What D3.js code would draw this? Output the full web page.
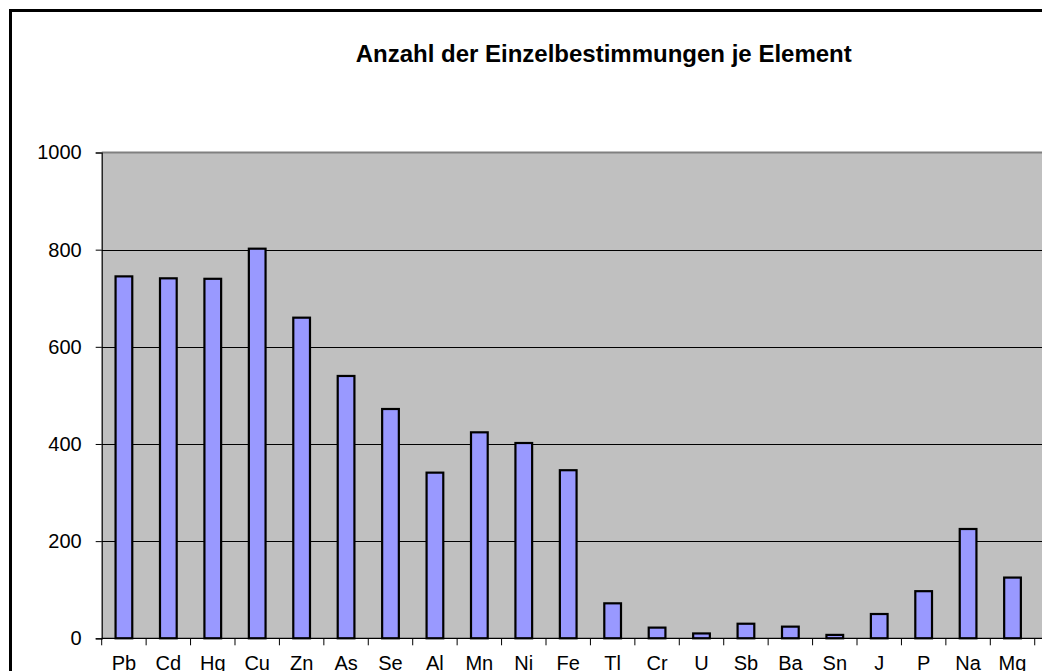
<!DOCTYPE html>
<html>
<head>
<meta charset="utf-8">
<script src="https://cdn.jsdelivr.net/npm/d3@7"></script>
<style>
  html, body { margin: 0; padding: 0; background: #fff; overflow: hidden; }
  svg { display: block; font-family: Arial, "Liberation Sans", sans-serif; }
</style>
</head>
<body>
<svg id="chart" width="1042" height="671"></svg>
<script>
const titleText = "Anzahl der Einzelbestimmungen je Element";
const categories = ["Pb","Cd","Hg","Cu","Zn","As","Se","Al","Mn","Ni","Fe","Tl","Cr","U","Sb","Ba","Sn","J","P","Na","Mg"];
const values = [745, 741, 740, 802, 660, 540, 472, 341, 424, 402, 346, 72, 22, 10, 30, 24, 7, 50, 97, 225, 125];
const yTicks = [0, 200, 400, 600, 800, 1000];

const svg = d3.select("#chart");
const W = 1042, H = 671;
const plot = { left: 101.7, top: 152.5, bottom: 638.3 };
const step = 44.43;

const x = d3.scaleBand()
  .domain(categories)
  .range([plot.left, plot.left + categories.length * step])
  .paddingInner(0.624)
  .paddingOuter(0.312);

const y = d3.scaleLinear().domain([0, 1000]).range([plot.bottom, plot.top]);

// outer chart frame
svg.append("rect")
  .attr("x", 10.5).attr("y", 10.5)
  .attr("width", W + 20).attr("height", H + 20)
  .attr("fill", "#fff").attr("stroke", "#000").attr("stroke-width", 3);

// title
svg.append("text")
  .attr("x", 603.7).attr("y", 62)
  .attr("text-anchor", "middle")
  .attr("font-size", 24).attr("font-weight", "bold")
  .attr("fill", "#000")
  .text(titleText);

// plot background
svg.append("rect")
  .attr("x", plot.left).attr("y", plot.top)
  .attr("width", W + 20 - plot.left).attr("height", plot.bottom - plot.top)
  .attr("fill", "#c0c0c0");

// gridlines
svg.append("g")
  .selectAll("line")
  .data(yTicks.filter(d => d > 0 && d < 1000))
  .join("line")
  .attr("x1", plot.left).attr("x2", W + 20)
  .attr("y1", d => Math.round(y(d)) + 0.5).attr("y2", d => Math.round(y(d)) + 0.5)
  .attr("stroke", "#000").attr("stroke-width", 1);

// plot top border
svg.append("line")
  .attr("x1", plot.left).attr("x2", W + 20)
  .attr("y1", plot.top).attr("y2", plot.top)
  .attr("stroke", "#808080").attr("stroke-width", 2);

// bars
svg.append("g")
  .selectAll("rect")
  .data(categories.map((c, i) => ({ c, v: values[i] })))
  .join("rect")
  .attr("x", d => x(d.c))
  .attr("y", d => y(d.v))
  .attr("width", x.bandwidth())
  .attr("height", d => y(0) - y(d.v))
  .attr("fill", "#9999ff")
  .attr("stroke", "#000")
  .attr("stroke-width", 2.2);

// y axis
const yAxis = svg.append("g")
  .attr("transform", `translate(${plot.left},0)`)
  .call(d3.axisLeft(y).tickValues(yTicks).tickSize(6).tickPadding(14).tickFormat(d3.format("d")));
yAxis.select(".domain").attr("stroke", "#000").attr("stroke-width", 1.2);
yAxis.selectAll(".tick line").attr("stroke", "#000");
yAxis.selectAll(".tick text").attr("font-size", 20).attr("fill", "#000").attr("font-family", "Arial, 'Liberation Sans', sans-serif");

// x axis line
svg.append("line")
  .attr("x1", plot.left).attr("x2", W + 20)
  .attr("y1", plot.bottom).attr("y2", plot.bottom)
  .attr("stroke", "#000").attr("stroke-width", 1.2);

// x ticks at category boundaries
const boundaries = categories.map(c => x(c) - x.step() * x.paddingInner() / 2).concat([x.range()[1]]);
svg.append("g")
  .selectAll("line")
  .data(boundaries)
  .join("line")
  .attr("x1", d => d).attr("x2", d => d)
  .attr("y1", plot.bottom).attr("y2", plot.bottom + 7)
  .attr("stroke", "#000").attr("stroke-width", 1);

// x labels
svg.append("g")
  .selectAll("text")
  .data(categories)
  .join("text")
  .attr("x", d => x(d) + x.bandwidth() / 2)
  .attr("y", 670)
  .attr("text-anchor", "middle")
  .attr("font-size", 20)
  .attr("fill", "#000")
  .text(d => d);
</script>
</body>
</html>
